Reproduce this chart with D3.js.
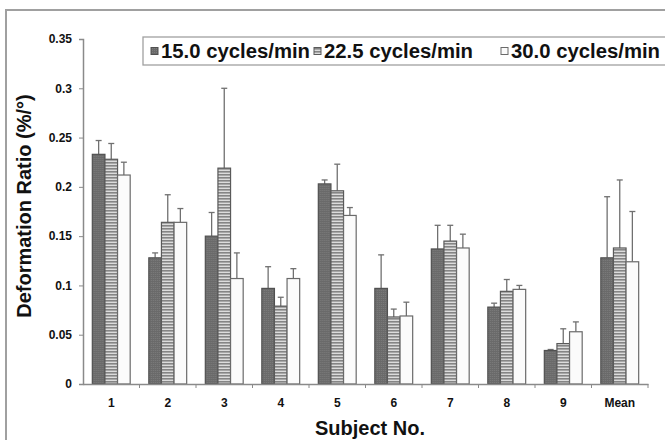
<!DOCTYPE html>
<html>
<head>
<meta charset="utf-8">
<script src="https://cdn.jsdelivr.net/npm/d3@7"></script>
<style>
  body { margin: 0; background: #fff; }
  text { font-family: "Liberation Sans", Arial, sans-serif; font-weight: bold; fill: #111; }
</style>
</head>
<body>
<div id="chart"></div>
<script>
var subjects = ["1", "2", "3", "4", "5", "6", "7", "8", "9", "Mean"]
var seriesNames = ["15.0 cycles/min", "22.5 cycles/min", "30.0 cycles/min"]
var rate15 = [0.233, 0.128, 0.150, 0.097, 0.203, 0.097, 0.137, 0.078, 0.034, 0.128]
var rate22 = [0.228, 0.164, 0.219, 0.079, 0.196, 0.068, 0.145, 0.094, 0.041, 0.138]
var rate30 = [0.212, 0.164, 0.107, 0.107, 0.171, 0.069, 0.138, 0.096, 0.053, 0.124]
var sd15 = [0.014, 0.005, 0.024, 0.022, 0.004, 0.034, 0.024, 0.004, 0.001, 0.062]
var sd22 = [0.016, 0.028, 0.081, 0.009, 0.027, 0.008, 0.016, 0.012, 0.015, 0.069]
var sd30 = [0.013, 0.014, 0.026, 0.010, 0.008, 0.014, 0.014, 0.004, 0.010, 0.051]
var yTicks = [0, 0.05, 0.1, 0.15, 0.2, 0.25, 0.3, 0.35]

var width = 665, height = 440

var svg = d3.select("#chart").append("svg")
  .attr("width", width)
  .attr("height", height)

// patterns for the three bar fills
var defs = svg.append("defs")
var p1 = defs.append("pattern").attr("id", "pat0")
  .attr("patternUnits", "userSpaceOnUse").attr("width", 2).attr("height", 2)
p1.append("rect").attr("width", 2).attr("height", 2).attr("fill", "#6a6a6a")
p1.append("rect").attr("width", 1).attr("height", 1).attr("fill", "#7c7c7c")
var p2 = defs.append("pattern").attr("id", "pat1")
  .attr("patternUnits", "userSpaceOnUse").attr("width", 4).attr("height", 3)
p2.append("rect").attr("width", 4).attr("height", 3).attr("fill", "#dcdcdc")
p2.append("rect").attr("width", 4).attr("height", 1.6).attr("fill", "#858585")

var fills = ["url(#pat0)", "url(#pat1)", "#fbfbfb"]
var strokes = ["#505050", "#5a5a5a", "#6a6a6a"]

// outer frame
svg.append("rect")
  .attr("x", 6).attr("y", 10)
  .attr("width", 720).attr("height", 500)
  .attr("fill", "none").attr("stroke", "#a0a0a0").attr("stroke-width", 2)

var x = d3.scaleBand().domain(subjects).range([83, 648])
  .paddingInner(0.33).paddingOuter(0.165)
var xs = d3.scaleBand().domain([0, 1, 2]).range([0, x.bandwidth()])
var y = d3.scaleLinear().domain([0, 0.35]).range([384, 39])

var data = subjects.map((s, i) => [
  {s: s, k: 0, v: rate15[i], e: sd15[i]},
  {s: s, k: 1, v: rate22[i], e: sd22[i]},
  {s: s, k: 2, v: rate30[i], e: sd30[i]}
])

// error bars (upper only), drawn behind bars
var eb = svg.append("g").attr("stroke", "#707070").attr("stroke-width", 1.3)
data.flat().forEach(d => {
  var cx = x(d.s) + xs(d.k) + xs.bandwidth() / 2
  eb.append("line").attr("x1", cx).attr("x2", cx)
    .attr("y1", y(d.v)).attr("y2", y(d.v + d.e))
  eb.append("line").attr("x1", cx - 3).attr("x2", cx + 3)
    .attr("y1", y(d.v + d.e)).attr("y2", y(d.v + d.e))
})

var groups = svg.append("g").selectAll("g")
  .data(data)
  .enter().append("g")
  .attr("transform", d => "translate(" + x(d[0].s) + ",0)")

groups.selectAll("rect")
  .data(d => d)
  .enter().append("rect")
  .attr("x", d => xs(d.k))
  .attr("y", d => y(d.v))
  .attr("width", xs.bandwidth())
  .attr("height", d => y(0) - y(d.v))
  .attr("fill", d => fills[d.k])
  .attr("stroke", d => strokes[d.k])
  .attr("stroke-width", 1.2)

// y axis
var yAxis = svg.append("g")
  .attr("transform", "translate(83,0)")
  .call(d3.axisLeft(y).tickValues(yTicks).tickSize(4).tickPadding(7)
    .tickFormat(d => d3.format("")(+d.toFixed(2))))
yAxis.select(".domain").attr("stroke", "#8a8a8a").attr("stroke-width", 1.5)
yAxis.selectAll(".tick line").attr("stroke", "#8a8a8a")
yAxis.selectAll("text").style("font-size", "12px").attr("fill", "#111")

// x axis
var xAxis = svg.append("g")
  .attr("transform", "translate(0,384)")
  .call(d3.axisBottom(x).tickSize(0).tickPadding(14))
xAxis.select(".domain").attr("stroke", "#8a8a8a").attr("stroke-width", 1.5)
xAxis.selectAll("text").style("font-size", "12px").attr("fill", "#111")
xAxis.selectAll(".sep")
  .data(subjects)
  .enter().append("line")
  .attr("class", "sep")
  .attr("x1", d => x(d) + x.step() - x.step() * x.paddingOuter())
  .attr("x2", d => x(d) + x.step() - x.step() * x.paddingOuter())
  .attr("y1", 0).attr("y2", 4)
  .attr("stroke", "#8a8a8a")

// axis titles
svg.append("text")
  .attr("x", 370).attr("y", 435)
  .attr("text-anchor", "middle")
  .style("font-size", "20px")
  .text("Subject No.")

svg.append("text")
  .attr("transform", "translate(31,206) rotate(-90)")
  .attr("text-anchor", "middle")
  .style("font-size", "20px")
  .text("Deformation Ratio (%/°)")

// legend
var legend = svg.append("g")
legend.append("rect")
  .attr("x", 143).attr("y", 37)
  .attr("width", 560).attr("height", 28)
  .attr("fill", "#fff").attr("stroke", "#a0a0a0").attr("stroke-width", 1.3)
var legX = [151, 314, 501]
seriesNames.forEach((n, i) => {
  legend.append("rect")
    .attr("x", legX[i]).attr("y", 47.5)
    .attr("width", 7).attr("height", 7)
    .attr("fill", fills[i]).attr("stroke", strokes[i])
  legend.append("text")
    .attr("x", legX[i] + 10).attr("y", 58)
    .attr("textLength", 149)
    .attr("lengthAdjust", "spacingAndGlyphs")
    .style("font-size", "20px")
    .text(n)
})
</script>
</body>
</html>
